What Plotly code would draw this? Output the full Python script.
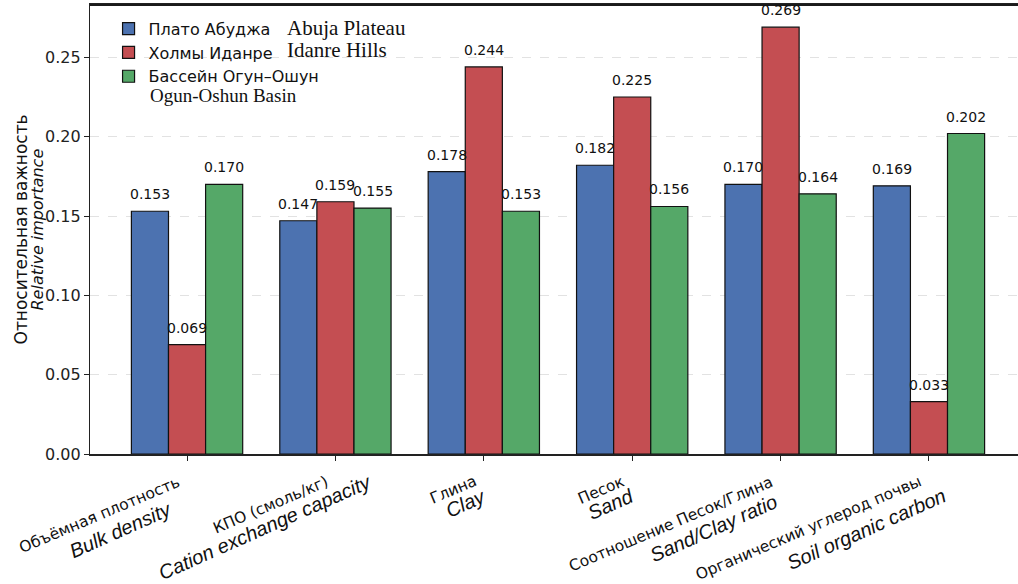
import plotly.graph_objects as go

# ---------------- data ----------------
categories_ru = ["Объёмная плотность", "КПО (смоль/кг)", "Глина", "Песок",
                 "Соотношение Песок/Глина", "Органический углерод почвы"]
categories_en = ["Bulk density", "Cation exchange capacity", "Clay", "Sand",
                 "Sand/Clay ratio", "Soil organic carbon"]
series_ru = ["Плато Абуджа", "Холмы Иданре", "Бассейн Огун–Ошун"]
series_en = ["Abuja Plateau", "Idanre Hills", "Ogun-Oshun Basin"]
abuja = [0.153, 0.147, 0.178, 0.182, 0.170, 0.169]
idanre = [0.069, 0.159, 0.244, 0.225, 0.269, 0.033]
ogun = [0.170, 0.155, 0.153, 0.156, 0.164, 0.202]
y_ticks = [0.00, 0.05, 0.10, 0.15, 0.20, 0.25]

# ---------------- style ----------------
colors = ["#4C72B0", "#C44E52", "#55A868"]
bar_w = 0.25
offsets = [-bar_w, 0.0, bar_w]
# per-label placement of the English x labels (dx, dy in px, right/top corner)
en_pos = [(-10, -41), (42, -14), (8, -28), (8, -28), (3, -33), (23, -28)]
# English legend text positions (px in picture) and sizes
leg_en = [(285, 28, 21), (285, 50, 21), (148, 96, 19)]

x_idx = list(range(len(categories_ru)))
series_vals = [abuja, idanre, ogun]

fig = go.Figure()
for name, vals, col in zip(series_ru, series_vals, colors):
    fig.add_trace(go.Bar(
        x=x_idx, y=vals, name=name, width=bar_w,
        marker=dict(color=col, line=dict(color="#111111", width=1.2)),
    ))

annotations = []
# value labels
for vals, off in zip(series_vals, offsets):
    for i, v in zip(x_idx, vals):
        annotations.append(dict(
            x=i + off, y=v, xref="x", yref="y", text=f"{v:.3f}",
            showarrow=False, yanchor="bottom", xanchor="center", yshift=7,
            font=dict(family="DejaVu Sans", size=14, color="#111111")))

# x tick labels (Russian + English)
for i, (ru, en) in enumerate(zip(categories_ru, categories_en)):
    annotations.append(dict(
        x=i, y=0, xref="x", yref="paper", text=ru, showarrow=False,
        textangle=-23, xanchor="right", yanchor="top", xshift=-2, yshift=-16,
        font=dict(family="DejaVu Sans", size=15.5, color="#111111")))
    dx, dy = en_pos[i]
    annotations.append(dict(
        x=i, y=0, xref="x", yref="paper", text=f"<i>{en}</i>", showarrow=False,
        textangle=-24, xanchor="right", yanchor="top", xshift=dx, yshift=dy,
        font=dict(family="Liberation Sans", size=20, color="#111111")))

# y-axis title (two lines)
annotations.append(dict(
    x=0, y=0.5, xref="paper", yref="paper", text="Относительная важность",
    showarrow=False, textangle=-90, xanchor="center", yanchor="middle",
    xshift=-70, font=dict(family="DejaVu Sans", size=17, color="#111111")))
annotations.append(dict(
    x=0, y=0.5, xref="paper", yref="paper", text="<i>Relative importance</i>",
    showarrow=False, textangle=-90, xanchor="center", yanchor="middle",
    xshift=-53, font=dict(family="DejaVu Sans", size=16, color="#111111")))

# English legend texts
for (px, py, sz), txt in zip(leg_en, series_en):
    annotations.append(dict(
        x=(px - 90) / 928, y=(454 - py) / 449, xref="paper", yref="paper",
        text=txt, showarrow=False, xanchor="left", yanchor="middle",
        font=dict(family="Liberation Serif", size=sz, color="#111111")))

fig.update_layout(
    width=1018, height=584,
    margin=dict(l=90, r=0, t=5, b=130),
    paper_bgcolor="white", plot_bgcolor="white",
    barmode="group", bargap=0.25, bargroupgap=0,
    font=dict(family="DejaVu Sans", size=16, color="#222222"),
    showlegend=True,
    legend=dict(x=0.02, y=0.985, xanchor="left", yanchor="top",
                bgcolor="rgba(255,255,255,0)", borderwidth=0,
                font=dict(family="DejaVu Sans", size=16, color="#111111"),
                tracegroupgap=0, itemwidth=30),
    annotations=annotations,
    shapes=[dict(type="line", xref="paper", yref="paper", x0=0, x1=1, y0=1, y1=1,
                 layer="above", line=dict(color="#1a1a1a", width=2))],
)
fig.update_xaxes(
    range=[-0.654, 5.6], tickvals=x_idx, ticktext=[""] * len(x_idx),
    showticklabels=False, ticks="outside", ticklen=5, tickcolor="#222222",
    showline=True, linecolor="#222222", linewidth=1.5, mirror=True,
    showgrid=False, zeroline=False,
)
fig.update_yaxes(
    range=[0, 0.283], tickvals=y_ticks, tickformat=".2f",
    ticks="outside", ticklen=5, tickcolor="#222222",
    showline=True, linecolor="#222222", linewidth=1.3, mirror=False,
    showgrid=True, gridcolor="#e2e2e2", griddash="dash", gridwidth=1,
    zeroline=False, tickfont=dict(family="DejaVu Sans", size=16, color="#222222"),
)

fig.write_html("out.html", config={"displayModeBar": False},
               post_script="document.body.style.margin='0px';")
